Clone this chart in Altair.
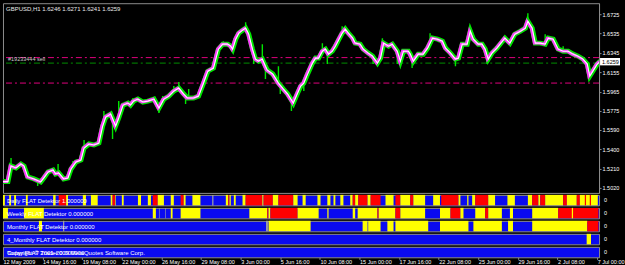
import altair as alt
import pandas as pd

# ---------------- data ----------------
bar_index = [0, 8, 13, 21, 29, 34, 40, 50, 61, 66,
             73, 81, 85, 90, 98, 105, 110, 118, 126, 131,
             139, 147, 155, 161, 166, 174, 182, 187, 194, 202,
             206, 211, 218, 226, 234, 244, 252, 260, 268, 276,
             284, 292, 298, 308, 316, 324, 331, 340, 348, 355,
             363, 368, 371, 376, 381, 387, 392, 397, 403, 408,
             413, 419, 424, 427, 436, 440, 445, 453, 460, 469,
             476, 481, 486, 492, 500, 505, 510, 516, 521, 526,
             532, 537, 542, 548, 553, 558, 565, 569, 577, 582,
             590, 597, 605, 610, 615, 623, 629, 637, 642, 647,
             655, 658, 663, 671, 679, 686, 694, 702, 710, 715,
             723, 731, 736, 742, 750, 755, 760, 768, 774, 779,
             784, 790, 798, 807, 811, 819, 827, 836, 844, 848,
             855, 860, 868, 876, 881, 889, 897, 905, 913, 921,
             929, 937, 944, 948, 953, 960, 965]
ma_price = [1.5082, 1.5082, 1.5235, 1.5216, 1.5255, 1.5235, 1.5128, 1.5108, 1.5079, 1.5118,
            1.5177, 1.5196, 1.5157, 1.5167, 1.5108, 1.5118, 1.5206, 1.5275, 1.5294, 1.5412,
            1.5451, 1.5441, 1.5461, 1.5627, 1.5716, 1.5745, 1.5627, 1.5706, 1.5833, 1.5853,
            1.5833, 1.5872, 1.5892, 1.5863, 1.5872, 1.5892, 1.5804, 1.5892, 1.5921, 1.5970,
            1.6000, 1.5941, 1.5902, 1.5902, 1.5921, 1.6049, 1.6166, 1.6196, 1.6382, 1.6431,
            1.6431, 1.6411, 1.6382, 1.6480, 1.6539, 1.6568, 1.6588, 1.6529, 1.6382, 1.6284,
            1.6264, 1.6284, 1.6215, 1.6176, 1.6137, 1.6098, 1.6049, 1.5990, 1.5941, 1.5853,
            1.5951, 1.6019, 1.6049, 1.6137, 1.6245, 1.6294, 1.6294, 1.6362, 1.6382, 1.6333,
            1.6362, 1.6411, 1.6470, 1.6539, 1.6578, 1.6539, 1.6490, 1.6441, 1.6431, 1.6382,
            1.6343, 1.6313, 1.6245, 1.6294, 1.6441, 1.6411, 1.6431, 1.6362, 1.6264, 1.6362,
            1.6362, 1.6333, 1.6264, 1.6333, 1.6333, 1.6392, 1.6490, 1.6480, 1.6460, 1.6392,
            1.6343, 1.6284, 1.6294, 1.6431, 1.6431, 1.6558, 1.6480, 1.6431, 1.6431, 1.6382,
            1.6284, 1.6343, 1.6392, 1.6460, 1.6490, 1.6441, 1.6529, 1.6558, 1.6588, 1.6656,
            1.6588, 1.6441, 1.6441, 1.6431, 1.6490, 1.6480, 1.6382, 1.6362, 1.6362, 1.6333,
            1.6313, 1.6284, 1.6235, 1.6117, 1.6166, 1.6235, 1.6264]

spike_bar = [13, 56, 89, 113, 131, 163, 177, 187, 210, 252, 258, 276, 284, 295, 300,
             356, 392, 405, 419, 424, 445, 448, 466, 486, 516, 524, 548, 598, 613, 631,
             637, 661, 690, 731, 755, 782, 848, 876, 905, 948]
spike_high = [1.5314, 1.5108, 1.5255, 1.5284, 1.5490, 1.5774, 1.5700, 1.5872, 1.5902, 1.5830,
              1.5921, 1.6019, 1.6059, 1.5920, 1.5990, 1.6460, 1.6647, 1.6330, 1.6431, 1.6200,
              1.6215, 1.6030, 1.5880, 1.6049, 1.6441, 1.6340, 1.6607, 1.6313, 1.6490, 1.6441,
              1.6362, 1.6300, 1.6539, 1.6284, 1.6607, 1.6330, 1.6735, 1.6529, 1.6411, 1.6117]
spike_low = [1.5235, 1.5039, 1.5167, 1.5206, 1.5412, 1.5650, 1.5500, 1.5706, 1.5850, 1.5755,
             1.5870, 1.5960, 1.5990, 1.5843, 1.5900, 1.6420, 1.6580, 1.6235, 1.6284, 1.6088,
             1.6049, 1.5941, 1.5774, 1.5970, 1.6362, 1.6235, 1.6539, 1.6235, 1.6420, 1.6400,
             1.6235, 1.6196, 1.6440, 1.6215, 1.6500, 1.6235, 1.6656, 1.6431, 1.6362, 1.6088]

level_prices = [1.6299, 1.6245, 1.6049]
level_colors = ["#e0007c", "#008f00", "#e0007c"]
last_price = 1.6259

price_ticks = [1.5020, 1.5210, 1.5400, 1.5590, 1.5775, 1.5965, 1.6155, 1.6345, 1.6535, 1.6725]
x_tick_bars = [0, 64, 128, 192, 256, 320, 384, 448, 512, 576, 640, 704, 768, 832, 896, 960]
x_tick_labels = ["12 May 2009", "14 May 16:00", "19 May 08:00", "22 May 00:00", "26 May 16:00",
                 "29 May 08:00", "3 Jun 00:00", "5 Jun 16:00", "10 Jun 08:00", "15 Jun 00:00",
                 "17 Jun 16:00", "22 Jun 08:00", "25 Jun 00:00", "29 Jun 16:00", "2 Jul 08:00",
                 "7 Jul 00:00"]

title_text = "GBPUSD,H1  1.6246 1.6271 1.6241 1.6259"
order_text = "#19233444 sell"

band_labels = ["Daily FLAT Detektor 1.000000",
               "Weekly FLAT Detektor 0.000000",
               "Monthly FLAT Detektor 0.000000",
               "4_Monthly FLAT Detektor 0.000000",
               "Today FLAT Trader 0.000000"]
copyright_text = "Copyright \u00a9 2001-2009 MetaQuotes Software Corp."

daily_start = [0, 10, 18, 37, 81, 90, 102, 129, 142, 174, 177, 181, 192, 218, 234, 242, 250, 271,
               287, 292, 306, 338, 360, 364, 366, 373, 387, 392, 419, 421, 436, 445, 469, 484, 508,
               524, 534, 545, 561, 565, 569, 574, 589, 594, 618, 634, 642, 658, 663, 695, 708, 736,
               750, 758, 763, 784, 815, 848, 855, 865, 868, 876, 905, 911, 927, 932, 940, 948]
daily_end = [3, 13, 21, 40, 85, 102, 105, 134, 153, 177, 181, 182, 195, 223, 239, 250, 260, 276,
             292, 295, 319, 340, 364, 366, 368, 376, 392, 419, 421, 436, 445, 469, 476, 489, 513,
             529, 537, 550, 565, 569, 574, 589, 594, 610, 631, 642, 658, 663, 682, 706, 736, 739,
             752, 763, 784, 795, 827, 855, 865, 868, 876, 905, 911, 927, 932, 961, 942, 950]
daily_color = ["Y", "Y", "Y", "Y", "Y", "R", "Y", "Y", "Y", "Y", "R", "Y", "Y", "Y", "Y", "R", "Y", "Y",
               "R", "Y", "Y", "G", "Y", "R", "Y", "Y", "Y", "R", "Y", "R", "Y", "R", "Y", "Y", "Y",
               "Y", "Y", "Y", "Y", "R", "Y", "R", "Y", "R", "Y", "R", "Y", "R", "Y", "Y", "R", "Y",
               "Y", "Y", "R", "Y", "Y", "Y", "R", "Y", "R", "Y", "R", "Y", "R", "Y", "R", "R"]

weekly_start = [0, 34, 242, 252, 262, 271, 287, 398, 427, 429, 432, 476, 524, 565, 573, 605, 607,
                634, 642, 706, 723, 739, 763, 779, 784, 819, 855, 897, 919]
weekly_end = [8, 66, 247, 253, 263, 274, 319, 427, 429, 432, 476, 510, 526, 569, 605, 607, 634,
              642, 682, 723, 739, 744, 779, 784, 806, 824, 897, 962, 921]
weekly_color = ["Y", "Y", "Y", "G", "G", "Y", "Y", "Y", "R", "Y", "R", "Y", "Y", "Y", "Y", "R", "Y",
                "R", "Y", "Y", "R", "Y", "Y", "R", "Y", "Y", "Y", "R", "Y"]

monthly_start = [58, 97, 425, 429, 581, 590, 621, 634, 706, 760, 816, 855, 944]
monthly_end = [63, 99, 428, 497, 589, 610, 631, 687, 752, 806, 824, 944, 962]
monthly_color = ["Y", "G", "G", "Y", "Y", "Y", "Y", "Y", "Y", "Y", "Y", "Y", "R"]

m4_start = [943]
m4_end = [950]
m4_color = ["Y"]

trader_start = []
trader_end = []
trader_color = []

# ---------------- style ----------------
W = 597
MAIN_H = 190
BAND_H = 10.5
FONT = "Liberation Sans"
GRAY = "#8c8c8c"
BLUE = "#0a0af0"

xscale = alt.Scale(domain=[0, 963], nice=False, zero=False)
yscale = alt.Scale(domain=[1.49710, 1.68328], nice=False, zero=False)

yaxis = alt.Axis(orient="right", values=price_ticks, format=".4f", title=None, grid=False,
                 labelColor="#ffffff", labelFont=FONT, labelFontSize=5.5, labelPadding=1,
                 tickSize=2, tickColor=GRAY, domainColor=GRAY, labelOverlap=False, labelFlush=False)

labels_js = "[" + ",".join("'%s'" % s for s in x_tick_labels) + "]"
xaxis = alt.Axis(values=x_tick_bars, labelExpr=labels_js + "[round(datum.value / 64)]",
                 title=None, grid=False, domain=False, labelAlign="left", labelColor="#ffffff",
                 labelFont=FONT, labelFontSize=5.5, labelPadding=0, tickSize=2, tickColor=GRAY,
                 labelOverlap=False, labelFlush=False)

price_df = pd.DataFrame({"bar": bar_index, "price": ma_price})
spike_df = pd.DataFrame({"bar": spike_bar, "hi": spike_high, "lo": spike_low})
level_df = pd.DataFrame({"p": level_prices, "c": level_colors})

X = alt.X("bar:Q", scale=xscale, axis=None)
Y = alt.Y("price:Q", scale=yscale, axis=yaxis)

levels = alt.Chart(level_df).mark_rule(strokeDash=[6, 3, 2, 3], strokeWidth=1).encode(
    y=alt.Y("p:Q", scale=yscale, axis=yaxis), color=alt.Color("c:N", scale=None))
green = alt.Chart(price_df).mark_line(color="#00e600", strokeWidth=5, clip=True).encode(x=X, y=Y)
spikes = alt.Chart(spike_df).mark_rule(color="#00e600", strokeWidth=1.4, clip=True).encode(
    x=X, y=alt.Y("hi:Q", scale=yscale, axis=yaxis), y2="lo:Q")
magenta = alt.Chart(price_df).mark_line(color="#ff30ff", strokeWidth=2.8, xOffset=-1, clip=True).encode(x=X, y=Y)
white = alt.Chart(price_df).mark_line(color="#ffffff", strokeWidth=1.1, clip=True).encode(x=X, y=Y)

title = alt.Chart(pd.DataFrame({"t": [title_text]})).mark_text(
    align="left", baseline="middle", color="#e8e8e8", font=FONT, fontSize=6).encode(
    x=alt.value(3), y=alt.value(6), text="t:N")
order_lbl = alt.Chart(pd.DataFrame({"t": [order_text], "p": [level_prices[0]]})).mark_text(
    align="left", baseline="middle", color="#c8c8c8", font=FONT, fontSize=5.5, dy=1.5).encode(
    x=alt.value(5), y=alt.Y("p:Q", scale=yscale, axis=yaxis), text="t:N")

box_df = pd.DataFrame({"p": [last_price], "t": ["%.4f" % last_price]})
box = alt.Chart(box_df).mark_rect(color="#ffffff", yOffset=-3.7, y2Offset=3.7).encode(
    x=alt.value(W + 1), x2=alt.value(W + 21), y=alt.Y("p:Q", scale=yscale, axis=yaxis), y2="p:Q")
box_txt = alt.Chart(box_df).mark_text(align="left", baseline="middle", color="#000000",
                                      font=FONT, fontSize=5.5).encode(
    x=alt.value(W + 3), y=alt.Y("p:Q", scale=yscale, axis=yaxis), text="t:N")

main = alt.layer(levels, green, spikes, magenta, white, title, order_lbl, box, box_txt).properties(
    width=W, height=MAIN_H, view=alt.ViewBackground(fill="#000000", stroke=GRAY, strokeWidth=1))


def band(starts, ends, colors, label, show_x=False, extra=None):
    df = pd.DataFrame({"s": pd.Series(starts, dtype=float), "e": pd.Series(ends, dtype=float),
                       "c": pd.Series(colors, dtype=str)})
    rects = alt.Chart(df).mark_rect().encode(
        x=alt.X("s:Q", scale=xscale, axis=xaxis if show_x else None),
        x2="e:Q",
        color=alt.Color("c:N", scale=alt.Scale(domain=["Y", "R", "G"],
                                               range=["#ffff00", "#ff0000", "#a0a0a0"]), legend=None))
    texts = [label] if extra is None else [extra, label]
    txt = alt.Chart(pd.DataFrame({"t": texts})).mark_text(
        align="left", baseline="middle", color="#ffffff", font=FONT, fontSize=6).encode(
        x=alt.value(4), y=alt.value(BAND_H / 2 + 0.5), text="t:N")
    zero = alt.Chart(pd.DataFrame({"t": ["0"]})).mark_text(
        align="left", baseline="middle", color="#ffffff", font=FONT, fontSize=5.5).encode(
        x=alt.value(W + 5), y=alt.value(BAND_H / 2), text="t:N")
    return alt.layer(rects, txt, zero).properties(
        width=W, height=BAND_H, view=alt.ViewBackground(fill=BLUE, stroke=GRAY, strokeWidth=1))


chart = alt.vconcat(
    main,
    band(daily_start, daily_end, daily_color, band_labels[0]),
    band(weekly_start, weekly_end, weekly_color, band_labels[1]),
    band(monthly_start, monthly_end, monthly_color, band_labels[2]),
    band(m4_start, m4_end, m4_color, band_labels[3]),
    band(trader_start, trader_end, trader_color, band_labels[4], show_x=True, extra=copyright_text),
    spacing=2,
    bounds="flush",
).properties(
    padding={"left": 2, "top": 2, "right": 0, "bottom": 0},
    background="#000000",
).configure_view(stroke=GRAY)

chart.save("out.html", embed_options={"renderer": "svg", "actions": False})
